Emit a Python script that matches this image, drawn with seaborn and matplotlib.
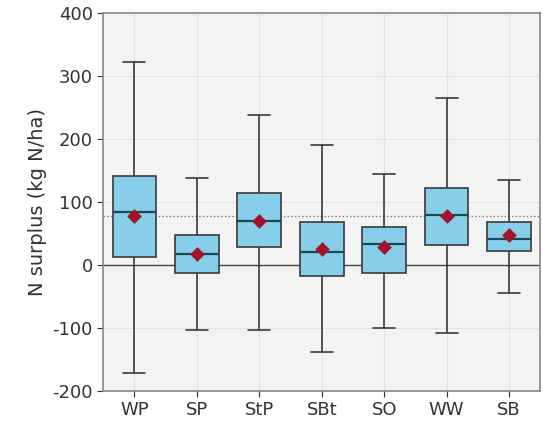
import pandas as pd
import seaborn as sns
import matplotlib.pyplot as plt

# Five-number summaries
crops = ["WP", "SP", "StP", "SBt", "SO", "WW", "SB"]
whis_low = [-172, -103, -103, -138, -100, -108, -45]
q1 = [12, -13, 28, -18, -13, 32, 22]
median = [84, 18, 70, 20, 33, 80, 42]
q3 = [142, 48, 115, 68, 60, 123, 68]
whis_high = [322, 138, 238, 190, 145, 265, 135]
means = [78, 18, 70, 25, 28, 78, 48]
overall_mean = 78

# five points per crop -> quartiles land exactly on the summary values
rows = []
for i, c in enumerate(crops):
    for v in (whis_low[i], q1[i], median[i], q3[i], whis_high[i]):
        rows.append({"crop": c, "surplus": v})
df = pd.DataFrame(rows)
df_mean = pd.DataFrame({"crop": crops, "surplus": means})

sns.set_style("whitegrid")
plt.rcParams['font.family'] = ['DejaVu Sans']
plt.rcParams['axes.unicode_minus'] = False

fig = plt.figure(figsize=(5.43, 4.24), dpi=100)
ax = fig.add_axes([0.19, 0.078, 0.805, 0.891])
ax.set_facecolor("#f3f3f3")

ax.axhline(0, color="#444444", lw=1.0, zorder=1)
ax.axhline(overall_mean, color="#777777", lw=1.0, ls=":", zorder=1)

sns.boxplot(
    data=df, x="crop", y="surplus", order=crops,
    whis=(0, 100), width=0.7, color="#87ceeb", saturation=1,
    linecolor="#3a3a3a", linewidth=1.2, ax=ax,
    medianprops={"color": "#1f4654", "linewidth": 1.6},
)

sns.stripplot(
    data=df_mean, x="crop", y="surplus", order=crops,
    marker="D", color="#a01626", size=7.5, jitter=False, ax=ax, zorder=5,
)

ax.set_ylim(-200, 400)
ax.set_xlim(-0.5, 6.5)
ax.set_yticks([-200, -100, 0, 100, 200, 300, 400])
ax.set_xlabel("")
ax.set_ylabel("N surplus (kg N/ha)", fontsize=14, color="#333333")
ax.tick_params(axis="both", labelsize=13, colors="#333333", length=4,
               left=True, bottom=True)
ax.grid(True, color="#e2e2e2", lw=0.8)
for s in ax.spines.values():
    s.set_color("#888888")
    s.set_linewidth(1.2)

plt.savefig("out.png", dpi=100)
